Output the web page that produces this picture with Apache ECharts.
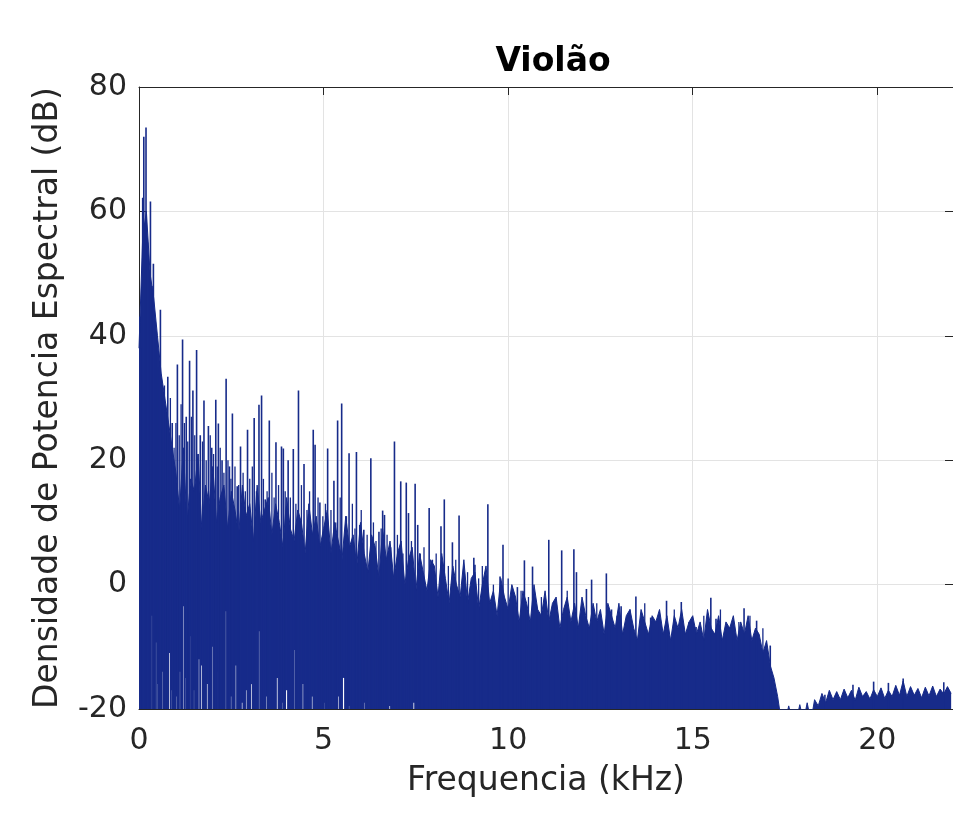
<!DOCTYPE html>
<html>
<head>
<meta charset="utf-8">
<title>Violão</title>
<script src="https://cdn.jsdelivr.net/npm/echarts/dist/echarts.min.js"></script>
<style>
	html, body { margin: 0; padding: 0; background: #fff; }
	#main { width: 953px; height: 817px; }
</style>
</head>
<body>
<div id="main"></div>
<script>
// passo do piso de ruido (kHz)
var noiseStep = 0.1;
// topo do ruido denso, de 0.0 a 22.0 kHz (dB)
var noiseTop = [
	38, 56, 60, 50, 46, 40, 34, 30, 26, 22,
	18, 12, 22, 10, 17, 15, 21, 9, 16, 13,
	19, 10, 14, 16, 9, 15, 12, 8, 16, 11,
	13, 7, 16, 10, 12, 14, 8, 13, 10, 6,
	14, 9, 7, 12, 10, 5, 13, 8, 11, 6,
	9, 12, 5, 10, 7, 4, 11, 6, 8, 3,
	10, 5, 2, 8, 6, 1, 9, 4, 7, 1,
	5, 7, 0, 4, 6, -1, 5, 2, -1, 4,
	3, -2, 5, 1, -3, 3, 0, -2, 4, -3,
	1, 2, -4, 0, 3, -3, -1, -5, 1, -2,
	-4, 0, -2, -6, -1, -3, -6, 0, -4, -5,
	-1, -6, -3, -2, -7, -4, -2, -6, -3, -7,
	-2, -5, -7, -3, -6, -4, -8, -3, -5, -7,
	-3, -8, -5, -4, -7, -9, -4, -6, -8, -5,
	-6, -4, -8, -5, -9, -5, -7, -4, -8, -6,
	-5, -8, -6, -9, -4, -7, -8, -5, -9, -6,
	-7, -5, -9, -6, -8, -5, -9, -7, -8, -11,
	-9, -13, -15, -18, -22, -22, -19.5, -22, -22, -19.3,
	-22, -19, -22, -18.5, -19.5, -17.5, -19, -17, -18.5, -17.2,
	-18.5, -16.8, -18.2, -17, -18.6, -16.5, -18, -17.2, -18.4, -16.9,
	-18, -16.6, -18.3, -17, -18, -16.2, -17.8, -15.5, -18, -16.4,
	-17.8, -16.7, -18.2, -16.5, -17.9, -16.3, -18, -16.8, -17.6, -16.4,
	-17.5
];
// harmonicos (picos principais)
var peakFreq = [
	0.01, 0.05, 0.10, 0.13, 0.16, 0.19, 0.23, 0.27, 0.31, 0.35,
	0.39, 0.43, 0.46, 0.52, 0.58, 0.66, 0.72, 0.78, 0.90, 1.04,
	1.18, 1.28, 1.37, 1.46, 1.56, 1.66, 1.76, 1.88, 1.97, 2.08,
	2.15, 2.25, 2.36, 2.45, 2.53, 2.66, 2.75, 2.94, 3.12, 3.25,
	3.32, 3.42, 3.53, 3.71, 3.86, 3.91, 4.04, 4.18, 4.32, 4.47,
	4.72, 4.77, 4.90, 5.11, 5.28, 5.38, 5.49, 5.69, 5.89, 5.98,
	6.09, 6.28, 6.50, 6.60, 6.65, 6.92, 7.09, 7.24, 7.30, 7.48,
	7.55, 7.86, 8.18, 8.27, 8.49, 8.67, 8.80, 9.07, 9.10, 9.45,
	9.78, 9.86, 10.13, 10.25, 10.44, 10.66, 10.78, 11.10, 11.45, 11.78,
	11.85, 12.12, 12.26, 12.66, 12.80, 13.06, 13.46, 13.86, 14.29, 14.69,
	15.09, 15.49, 15.63, 15.90, 16.10, 16.39, 16.73, 17.10,
	18.58, 19.34, 19.90, 20.30, 20.70, 21.80
];
var peakDb = [
	43.1, 38, 62.2, 72, 58, 73.5, 55, 50.6, 61.6, 48,
	51.6, 38, 40.7, 35, 44.2, 30, 28, 33.4, 26, 35.4,
	39.4, 27, 36, 31.2, 37.7, 24, 29.6, 25.5, 22, 29.7,
	25.9, 20, 33.1, 19, 27.5, 15.8, 22.2, 24.9, 26.8, 28.9,
	30.4, 13.7, 26.4, 22.9, 22.2, 21.9, 20, 21.8, 31.2, 19.4,
	24.9, 22.5, 13.2, 21.9, 16.7, 26.4, 29.1, 21.1, 21.3, 9.6,
	8.8, 20.3, 8.5, 11.9, 11.2, 23, 16.6, 16.4, 11.5, 16.2,
	9.6, 12.3, 9.4, 13.7, 6.8, 11.1, 1.3, 4.3, 3.2, 12.9,
	1.3, 6.4, -1.3, -0.4, 3.9, 2.9, -3.9, 7.2, 5.5, 5.7,
	2, -0.7, 0.8, 1.8, -4, -3.5, -1.9, -5.3, -2.6, -2.8,
	-6.8, -2.1, -5.5, -6.8, -7.5, -3.8, -5.8, -9.8,
	-17.7, -16.1, -15.6, -15.8, -15.1, -15.7
];
// picos menores entre os harmonicos
var minorFreq = [
	0.62, 0.69, 0.75, 0.85, 0.95, 1.00, 1.09, 1.14, 1.23, 1.32,
	1.42, 1.51, 1.60, 1.72, 1.82, 1.93, 2.02, 2.12, 2.20, 2.30,
	2.41, 2.49, 2.60, 2.70, 2.82, 2.88, 3.00, 3.07, 3.18, 3.37,
	3.47, 3.60, 3.66, 3.78, 3.96, 4.10, 4.25, 4.40, 4.55, 4.62,
	4.85, 4.98, 5.05, 5.20, 5.33, 5.45, 5.62, 5.78, 5.85, 6.02,
	6.18, 6.35, 6.42, 6.56, 6.72, 6.82, 7.00, 7.15, 7.38, 7.62,
	7.72, 7.95, 8.05, 8.38, 8.58, 8.90, 9.20, 9.30, 9.60, 10.00,
	10.35, 10.55, 10.90, 11.25, 11.60, 12.00, 12.40, 12.95, 13.30, 13.70,
	14.10, 14.50, 14.90, 15.30, 15.75, 16.25, 16.55, 16.90
];
var minorDb = [
	25, 32, 27, 30, 22, 26, 24, 29, 26, 23,
	27, 24, 21, 23, 20, 24, 21, 19, 22, 18,
	20, 17, 19, 16, 18, 15, 17, 19, 15, 17,
	15, 18, 14, 16, 15, 14, 13, 16, 12, 15,
	14, 11, 13, 12, 10, 14, 11, 13, 9, 12,
	8, 10, 7, 9, 8, 6, 8, 5, 7, 5,
	6, 4, 5, 3, 4, 2, 1, 3, 0, 1,
	-1, -2, -2, -3, -1, -4, -3, -5, -4, -3,
	-5, -4, -6, -5, -4, -6, -5, -7
];
// vales (fendas brancas a partir do fundo)
var dipFreq = [
	0.34, 0.46, 0.52, 0.64, 0.72, 0.83, 0.90, 1.02, 1.10, 1.20,
	1.28, 1.37, 1.50, 1.62, 1.70, 1.85, 2.00, 2.15, 2.36, 2.50,
	2.62, 2.80, 2.90, 3.05, 3.26, 3.45, 3.74, 3.90, 4.00, 4.19,
	4.45, 4.70, 5.05, 5.40, 5.54, 5.70, 6.10, 6.80, 7.45
];
var dipDb = [
	-5, -9.3, -16, -14, -12, -11, -17, -18, -14, -3.5,
	-15, -8.3, -17, -12, -13, -16, -10, -14, -4.3, -18,
	-13, -19, -17, -16, -7.5, -18, -15, -19, -17, -10.5,
	-16, -18, -19, -18, -15, -19.5, -19, -19.5, -19
];

var lineColor = '#172b8a';
var axisColor = '#262626';
var gridColor = '#e3e3e3';
var fontName = 'DejaVu Sans';

init();
function init(){
	var chart = echarts.init(document.getElementById('main'));
	chart.setOption(buildOption());
}

function toPairs(xs, ys){
	var out = [];
	for (var i = 0; i < xs.length; i++) {
		out.push([xs[i], ys[i]]);
	}
	return out;
}

// eixo de moldura (sem rotulos), ticks para dentro
function frameAxis(pos, min, max, interval){
	return {
		type: 'value', position: pos, min: min, max: max, interval: interval,
		axisLine: { show: true, onZero: false, lineStyle: { color: axisColor, width: 1 } },
		axisTick: { show: true, inside: true, length: 8, lineStyle: { color: axisColor } },
		axisLabel: { show: false },
		splitLine: { show: false }
	};
}

function buildOption(){
	var noiseData = [];
	for (var i = 0; i < noiseTop.length; i++) {
		noiseData.push([i * noiseStep, noiseTop[i]]);
	}

	return {
		animation: false,
		title: {
			text: 'Violão',
			left: 548,
			top: 41,
			textAlign: 'center',
			textStyle: { fontFamily: fontName, fontSize: 33, fontWeight: 'bold', color: '#000' }
		},
		grid: { left: 139, top: 87, right: -4, bottom: 108 },
		xAxis: [
			{
				type: 'value', min: 0, max: 22.05, interval: 5,
				name: 'Frequencia (kHz)', nameLocation: 'middle', nameGap: 56,
				nameTextStyle: { fontFamily: fontName, fontSize: 33, color: axisColor },
				axisLine: { show: true, onZero: false, lineStyle: { color: axisColor, width: 1 } },
				axisTick: { show: true, inside: true, length: 8, lineStyle: { color: axisColor } },
				axisLabel: { fontFamily: fontName, fontSize: 30, color: axisColor, margin: 17, showMaxLabel: false },
				splitLine: { show: true, lineStyle: { color: gridColor, width: 1 } }
			},
			frameAxis('top', 0, 22.05, 5)
		],
		yAxis: [
			{
				type: 'value', min: -20, max: 80, interval: 20,
				name: 'Densidade de Potencia Espectral (dB)', nameLocation: 'middle', nameGap: 74,
				nameTextStyle: { fontFamily: fontName, fontSize: 33, color: axisColor },
				axisLine: { show: true, onZero: false, lineStyle: { color: axisColor, width: 1 } },
				axisTick: { show: true, inside: true, length: 8, lineStyle: { color: axisColor } },
				axisLabel: { fontFamily: fontName, fontSize: 30, color: axisColor, margin: 12 },
				splitLine: { show: true, lineStyle: { color: gridColor, width: 1 } }
			},
			frameAxis('right', -20, 80, 20)
		],
		series: [
			{
				// piso de ruido preenchido
				type: 'line',
				data: noiseData,
				showSymbol: false,
				clip: true,
				lineStyle: { color: lineColor, width: 1 },
				areaStyle: { color: lineColor, opacity: 1, origin: 'start' },
				z: 2
			},
			{
				// fendas brancas
				type: 'custom',
				data: toPairs(dipFreq, dipDb),
				clip: true,
				renderItem: function(params, api){
					return vLine(api, '#ffffff', 1.2);
				},
				z: 3
			},
			{
				// picos menores
				type: 'custom',
				data: toPairs(minorFreq, minorDb),
				clip: true,
				renderItem: function(params, api){
					return vLine(api, lineColor, 1.3);
				},
				z: 4
			},
			{
				// picos harmonicos
				type: 'custom',
				data: toPairs(peakFreq, peakDb),
				clip: true,
				renderItem: function(params, api){
					return vLine(api, lineColor, 1.6);
				},
				z: 5
			}
		]
	};
}

// linha vertical do fundo (-20 dB) ate o valor
function vLine(api, color, width){
	var top = api.coord([api.value(0), api.value(1)]);
	var base = api.coord([api.value(0), -20]);
	return {
		type: 'line',
		shape: { x1: top[0], y1: top[1], x2: base[0], y2: base[1] },
		style: { stroke: color, lineWidth: width }
	};
}
</script>
</body>
</html>
